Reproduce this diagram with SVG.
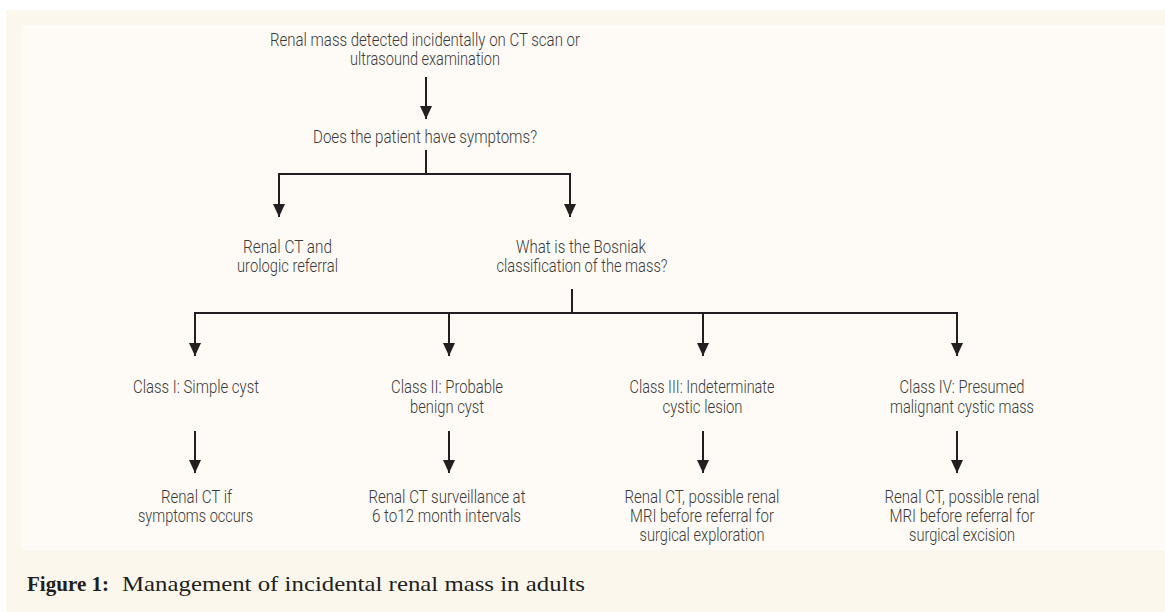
<svg xmlns="http://www.w3.org/2000/svg" width="1165" height="612" viewBox="0 0 1165 612">
<defs>
<style>
.t{font-family:Roboto,"Liberation Sans",sans-serif;font-weight:300;font-size:18px;fill:#3a3a3a;text-anchor:middle}
.c{stroke:#231f20;stroke-width:2;fill:none}
.cap{font-family:"Liberation Serif","DejaVu Serif",serif;font-size:21.5px;fill:#231f20}
</style>
<marker id="ah" viewBox="0 0 13 12" refX="13" refY="6" markerWidth="13" markerHeight="12" markerUnits="userSpaceOnUse" orient="auto">
<path d="M0,0 L13,6 L0,12 Z" fill="#231f20"/>
</marker>
</defs>
<rect x="0" y="0" width="1165" height="612" fill="#ffffff"/>
<rect x="6" y="10" width="1159" height="602" fill="#fbf7ed"/>
<rect x="21" y="25" width="1144" height="525" fill="#fefbf6"/>

<g id="connectors">
<line class="c" x1="426" y1="77" x2="426" y2="119" marker-end="url(#ah)"/>
<polyline class="c" points="426,150 426,174"/>
<polyline class="c" points="279,174 570,174"/>
<line class="c" x1="279" y1="173" x2="279" y2="217" marker-end="url(#ah)"/>
<line class="c" x1="570" y1="173" x2="570" y2="217" marker-end="url(#ah)"/>
<polyline class="c" points="572,289 572,313"/>
<polyline class="c" points="195,313 957,313"/>
<line class="c" x1="195" y1="312" x2="195" y2="356" marker-end="url(#ah)"/>
<line class="c" x1="449" y1="312" x2="449" y2="356" marker-end="url(#ah)"/>
<line class="c" x1="703" y1="312" x2="703" y2="356" marker-end="url(#ah)"/>
<line class="c" x1="957" y1="312" x2="957" y2="356" marker-end="url(#ah)"/>
<line class="c" x1="195" y1="431" x2="195" y2="473" marker-end="url(#ah)"/>
<line class="c" x1="449" y1="431" x2="449" y2="473" marker-end="url(#ah)"/>
<line class="c" x1="703" y1="431" x2="703" y2="473" marker-end="url(#ah)"/>
<line class="c" x1="957" y1="431" x2="957" y2="473" marker-end="url(#ah)"/>
</g>

<g id="n-start">
<text class="t" x="425" y="46" textLength="310" lengthAdjust="spacingAndGlyphs">Renal mass detected incidentally on CT scan or</text>
<text class="t" x="425" y="65" textLength="150" lengthAdjust="spacingAndGlyphs">ultrasound examination</text>
</g>
<g id="n-symptoms">
<text class="t" x="425" y="143" textLength="224" lengthAdjust="spacingAndGlyphs">Does the patient have symptoms?</text>
</g>
<g id="n-referral">
<text class="t" x="287.5" y="253" textLength="89" lengthAdjust="spacingAndGlyphs">Renal CT and</text>
<text class="t" x="287.5" y="272" textLength="101" lengthAdjust="spacingAndGlyphs">urologic referral</text>
</g>
<g id="n-bosniak">
<text class="t" x="581" y="253" textLength="130" lengthAdjust="spacingAndGlyphs">What is the Bosniak</text>
<text class="t" x="582" y="272" textLength="171" lengthAdjust="spacingAndGlyphs">classification of the mass?</text>
</g>
<g id="n-class1">
<text class="t" x="196" y="393" textLength="126" lengthAdjust="spacingAndGlyphs">Class I: Simple cyst</text>
</g>
<g id="n-class2">
<text class="t" x="447" y="393" textLength="112" lengthAdjust="spacingAndGlyphs">Class II: Probable</text>
<text class="t" x="447" y="413" textLength="74" lengthAdjust="spacingAndGlyphs">benign cyst</text>
</g>
<g id="n-class3">
<text class="t" x="702" y="393" textLength="145" lengthAdjust="spacingAndGlyphs">Class III: Indeterminate</text>
<text class="t" x="702.5" y="413" textLength="80" lengthAdjust="spacingAndGlyphs">cystic lesion</text>
</g>
<g id="n-class4">
<text class="t" x="962" y="393" textLength="125" lengthAdjust="spacingAndGlyphs">Class IV: Presumed</text>
<text class="t" x="962" y="413" textLength="144" lengthAdjust="spacingAndGlyphs">malignant cystic mass</text>
</g>
<g id="n-out1">
<text class="t" x="196.5" y="503" textLength="71" lengthAdjust="spacingAndGlyphs">Renal CT if</text>
<text class="t" x="195.5" y="522" textLength="115" lengthAdjust="spacingAndGlyphs">symptoms occurs</text>
</g>
<g id="n-out2">
<text class="t" x="447" y="503" textLength="157" lengthAdjust="spacingAndGlyphs">Renal CT surveillance at</text>
<text class="t" x="446.5" y="522" textLength="149" lengthAdjust="spacingAndGlyphs">6 to12 month intervals</text>
</g>
<g id="n-out3">
<text class="t" x="702" y="503" textLength="155" lengthAdjust="spacingAndGlyphs">Renal CT, possible renal</text>
<text class="t" x="702" y="522" textLength="144" lengthAdjust="spacingAndGlyphs">MRI before referral for</text>
<text class="t" x="702" y="541" textLength="125" lengthAdjust="spacingAndGlyphs">surgical exploration</text>
</g>
<g id="n-out4">
<text class="t" x="962" y="503" textLength="155" lengthAdjust="spacingAndGlyphs">Renal CT, possible renal</text>
<text class="t" x="962" y="522" textLength="145" lengthAdjust="spacingAndGlyphs">MRI before referral for</text>
<text class="t" x="962" y="541" textLength="106" lengthAdjust="spacingAndGlyphs">surgical excision</text>
</g>

<g id="caption">
<text class="cap" x="27" y="591" font-weight="bold" textLength="82" lengthAdjust="spacingAndGlyphs">Figure 1:</text>
<text class="cap" x="122" y="591" textLength="463" lengthAdjust="spacingAndGlyphs">Management of incidental renal mass in adults</text>
</g>
</svg>
